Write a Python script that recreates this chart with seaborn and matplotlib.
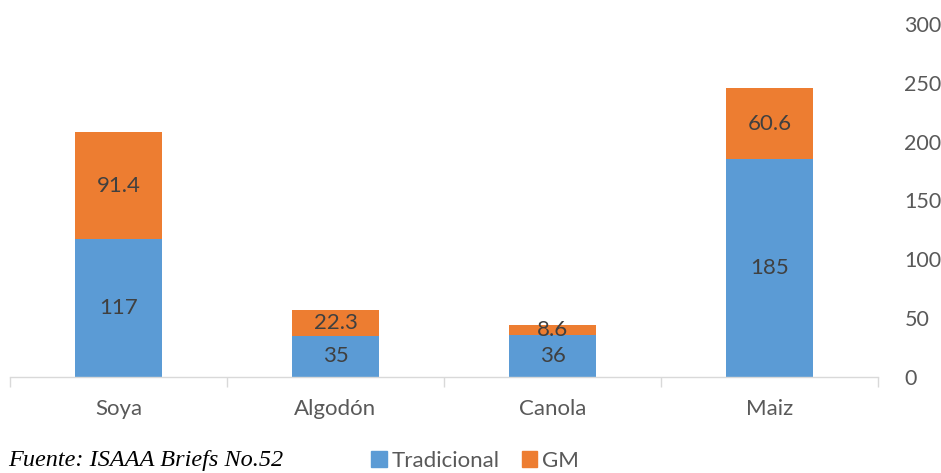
import matplotlib
matplotlib.use("Agg")
import matplotlib.pyplot as plt
from matplotlib.patches import Patch
import numpy as np
import pandas as pd
import seaborn as sns

# values
cultivos = ["Soya", "Algodón", "Canola", "Maiz"]
tradicional = [117, 35, 36, 185]
gm = [91.4, 22.3, 8.6, 60.6]
y_ticks = [0, 50, 100, 150, 200, 250, 300]

BLUE = "#5B9BD5"
ORANGE = "#ED7D31"
TICK_GREY = "#595959"
LABEL_GREY = "#404040"

sns.set_theme(style="white")
plt.rcParams["font.family"] = ["Lato", "DejaVu Sans"]

df = pd.DataFrame({"cultivo": cultivos, "tradicional": tradicional, "gm": gm})
df["total"] = df["tradicional"] + df["gm"]

fig = plt.figure(figsize=(9.41, 4.73), dpi=100)
ax = fig.add_axes([10 / 941, 96 / 473, 868 / 941, 353 / 473])

# total bars in orange, traditional overlaid in blue -> stacked look
sns.barplot(data=df, x="cultivo", y="total", color=ORANGE, width=0.4,
            saturation=1, ax=ax, edgecolor="none")
sns.barplot(data=df, x="cultivo", y="tradicional", color=BLUE, width=0.4,
            saturation=1, ax=ax, edgecolor="none")

for i, row in df.iterrows():
    ax.text(i, row["tradicional"] / 2, f"{row['tradicional']:g}", ha="center",
            va="center", fontsize=16, color=LABEL_GREY)
    ax.text(i, row["tradicional"] + row["gm"] / 2, f"{row['gm']:g}", ha="center",
            va="center", fontsize=16, color=LABEL_GREY)

ax.set_xlim(-0.5, len(cultivos) - 0.5)
ax.set_ylim(0, 300)
ax.set_xlabel("")
ax.set_ylabel("")

ax.yaxis.tick_right()
ax.set_yticks(y_ticks)
ax.tick_params(axis="y", length=0, pad=19, labelsize=15.5, labelcolor=TICK_GREY)
for lab in ax.get_yticklabels():
    lab.set_horizontalalignment("left")

ax.set_xticks(np.arange(-0.5, len(cultivos)), minor=True)
ax.tick_params(axis="x", which="major", length=0, pad=16, labelsize=16,
               labelcolor=TICK_GREY)
ax.tick_params(axis="x", which="minor", length=7, width=1, color="#D9D9D9",
               direction="out", bottom=True)

for side in ["top", "left", "right"]:
    ax.spines[side].set_visible(False)
ax.spines["bottom"].set_color("#D9D9D9")
ax.spines["bottom"].set_linewidth(1)

fig.text(8 / 941, 1 - 460 / 473, "Fuente: ISAAA Briefs No.52", fontsize=17.5,
         fontstyle="italic", family=["Liberation Serif", "DejaVu Serif"],
         va="center", ha="left", color="black")

handles = [Patch(color=BLUE, label="Tradicional"), Patch(color=ORANGE, label="GM")]
leg = fig.legend(handles=handles, loc="center", bbox_to_anchor=(475 / 941, 1 - 461 / 473),
                 ncol=2, frameon=False, fontsize=16, handlelength=0.7,
                 handleheight=0.7, handletextpad=0.2, columnspacing=1.0,
                 borderpad=0)
for t in leg.get_texts():
    t.set_color(TICK_GREY)

fig.savefig("out.png", dpi=100)
